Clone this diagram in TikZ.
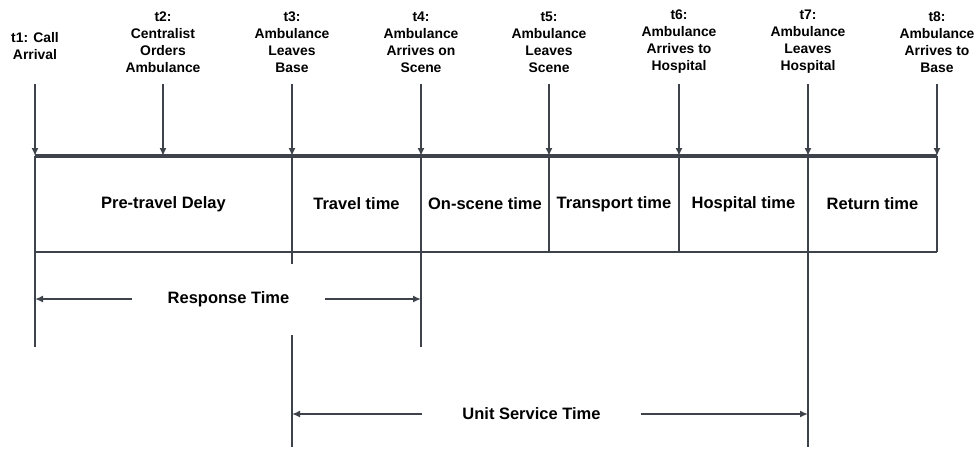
\documentclass[tikz,border=0pt]{standalone}
\usepackage{fontspec}
\setmainfont{Liberation Sans}
\usetikzlibrary{positioning,arrows.meta}
\definecolor{linegray}{RGB}{62,67,75}

\begin{document}
\begin{tikzpicture}
            [x=1pt,y=-1pt,every node/.style={align=center, inner sep=0pt},
             tlabel/.style={font=\fontsize{13.9}{17}\selectfont\bfseries},
             cell/.style={font=\fontsize{16.5}{19}\selectfont\bfseries},
             span/.style={cell, fill=white},
             tick/.style={draw=linegray, line width=2pt, -{Latex[length=8pt,width=7pt]}},
             rule/.style={draw=linegray, line width=2pt},
             both/.style={draw=linegray, line width=1.6pt, {Latex[length=8pt,width=7pt]}-{Latex[length=8pt,width=7pt]}}]
            \useasboundingbox (0,0) rectangle (977,459);

            % points on the time line
            \foreach \i/\x in {1/35, 2/163, 3/292, 4/421, 5/549, 6/679, 7/808, 8/937} {
              \coordinate (s\i) at (\x,84);
              \coordinate (a\i) at (\x,156);
              \coordinate (b\i) at (\x,252);
            }
            \coordinate (e1) at (35,347);
            \coordinate (e3) at (292,447);
            \coordinate (e4) at (421,347);
            \coordinate (e7) at (808,447);

            \node[tlabel] (t1) at (35,46) {t1: Call\\Arrival};
            \node[tlabel] (t2) at (163,42) {t2:\\Centralist\\Orders\\Ambulance};
            \node[tlabel] (t3) at (292,42) {t3:\\Ambulance\\Leaves\\Base};
            \node[tlabel] (t4) at (421,42) {t4:\\Ambulance\\Arrives on\\Scene};
            \node[tlabel] (t5) at (549,42) {t5:\\Ambulance\\Leaves\\Scene};
            \node[tlabel] (t6) at (679,42) {t6:\\Ambulance\\Arrives to\\Hospital};
            \node[tlabel] (t7) at (808,42) {t7:\\Ambulance\\Leaves\\Hospital};
            \node[tlabel] (t8) at (937,42) {t8:\\Ambulance\\Arrives to\\Base};

            \foreach \i in {1,...,8}
            \draw[tick] (s\i) -- (a\i);

            \foreach \from/\to in {a1/e1, a3/e3, a4/e4, a5/b5, a6/b6, a7/e7, a8/b8, b1/b8}
            \draw[rule] (\from) -- (\to);
            \draw[draw=linegray, line width=4.5pt] (a1) -- (a8);

            \node[cell] (c1) at (163.5,204) {Pre-travel Delay};
            \node[cell] (c2) at (356.5,204) {Travel time};
            \node[cell] (c3) at (485,204) {On-scene time};
            \node[cell] (c4) at (614,204) {Transport time};
            \node[cell] (c5) at (743.5,204) {Hospital time};
            \node[cell] (c6) at (872.5,204) {Return time};

            % spans below the time line
            \coordinate (r1) at (35,299);
            \coordinate (r2) at (421,299);
            \coordinate (u1) at (292,414);
            \coordinate (u2) at (808,414);
            \draw[both] (r1) -- (r2);
            \draw[both] (u1) -- (u2);
            \node[span, minimum width=193pt, minimum height=71pt] (resp) at (228.5,299) {Response Time};
            \node[span, minimum width=219pt, minimum height=67pt] (unit) at (531.5,414) {Unit Service Time};
          \end{tikzpicture}
\end{document}
